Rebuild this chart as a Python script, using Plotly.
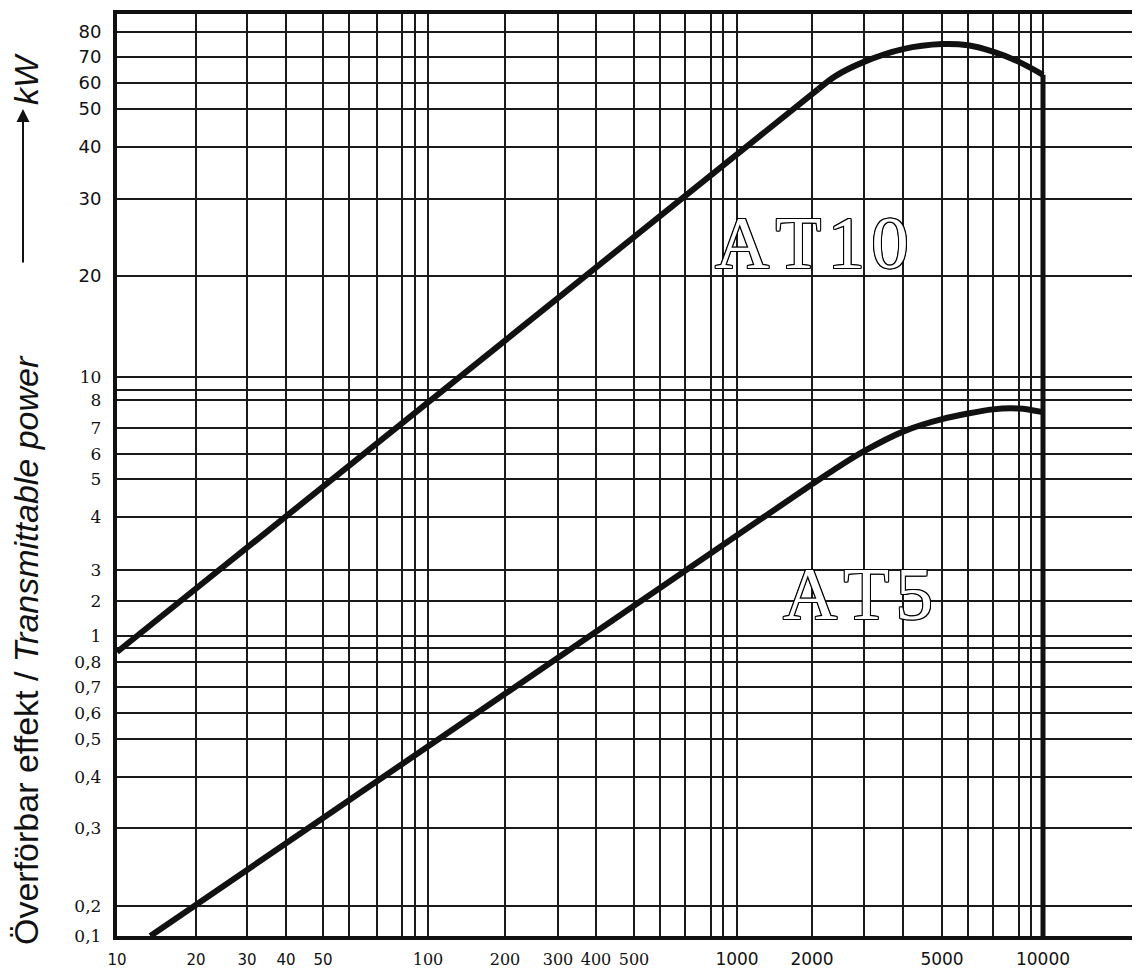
import numpy as np
import plotly.graph_objects as go

# ---- Axis scale of the printed nomogram (value -> scale units along the axis) ----
X_SCALE_RPM = [10, 20, 30, 40, 50, 60, 70, 80, 90, 100, 200, 300, 400, 500, 600, 700, 800, 900,
               1000, 2000, 3000, 4000, 5000, 6000, 7000, 8000, 9000, 10000]
X_SCALE_UNITS = [0, 79, 130, 169, 206, 232, 260, 285, 298, 311, 388, 441, 479, 517, 543, 568, 594, 606,
                 620, 695, 747, 786, 825, 851, 876, 902, 914, 926]
Y_SCALE_KW = [0.1, 0.2, 0.3, 0.4, 0.5, 0.6, 0.7, 0.8, 0.9, 1, 2, 3, 4, 5, 6, 7, 8, 9, 10,
              20, 30, 40, 50, 60, 70, 80]
Y_SCALE_UNITS = [0, 30, 108, 159, 197, 223, 249, 274, 288, 300, 335, 366, 419, 457, 482, 508, 536, 546, 559,
                 660, 737, 789, 827, 853, 879, 904]

# ---- Tick labels ----
X_TICK_VALUES = [10, 20, 30, 40, 50, 100, 200, 300, 400, 500, 1000, 2000, 5000, 10000]
X_TICK_LABELS = ["10", "20", "30", "40", "50", "100", "200", "300", "400", "500",
                 "1000", "2000", "5000", "10000"]
Y_TICK_VALUES = [0.1, 0.2, 0.3, 0.4, 0.5, 0.6, 0.7, 0.8, 1, 2, 3, 4, 5, 6, 7, 8, 10,
                 20, 30, 40, 50, 60, 70, 80]
Y_TICK_LABELS = ["0,1", "0,2", "0,3", "0,4", "0,5", "0,6", "0,7", "0,8", "1", "2", "3", "4", "5",
                 "6", "7", "8", "10", "20", "30", "40", "50", "60", "70", "80"]

# ---- Series (rpm, kW) ----
AT10_LINE_RPM = [10, 2100]
AT10_LINE_KW = [0.87, 57.5]
AT10_CURVE_RPM = [2100, 2400, 3000, 4000, 5000, 6000, 7000, 8000, 10000]
AT10_CURVE_KW = [57.5, 62.5, 68, 73, 75, 74.5, 72, 68, 63]
LIMIT_RPM = [10000, 10000]
LIMIT_KW = [63, 0.1]
AT5_LINE_RPM = [13.4, 2000]
AT5_LINE_KW = [0.1, 4.85]
AT5_CURVE_RPM = [2000, 2485, 3000, 4000, 5000, 7000, 8000, 10000]
AT5_CURVE_KW = [4.85, 5.5, 6.1, 6.85, 7.3, 7.65, 7.68, 7.55]


def xs(v):
    return np.interp(np.log10(np.asarray(v, float)), np.log10(X_SCALE_RPM), X_SCALE_UNITS)


def ys(v):
    return np.interp(np.log10(np.asarray(v, float)), np.log10(Y_SCALE_KW), Y_SCALE_UNITS)


SERIF = "font-family:DejaVu Serif;font-size:16px"
SANS_SMALL = "font-family:DejaVu Sans;font-size:15px"


def xlab(v, t):
    if 100 <= v <= 500:
        return f'<span style="{SERIF}">{t}</span>'
    if v <= 50:
        return f'<span style="{SANS_SMALL}">{t}</span>'
    return t


def ylab(v, t):
    if v <= 10:
        return f'<span style="font-family:DejaVu Serif;font-size:17px">{t}</span>'
    return t


x_grid_vals = list(xs(X_SCALE_RPM))
x_grid_text = []
for v in X_SCALE_RPM:
    if v in X_TICK_VALUES:
        x_grid_text.append(xlab(v, X_TICK_LABELS[X_TICK_VALUES.index(v)]))
    else:
        x_grid_text.append("")
y_grid_vals = list(ys(Y_SCALE_KW))
y_grid_text = []
for v in Y_SCALE_KW:
    if v in Y_TICK_VALUES:
        y_grid_text.append(ylab(v, Y_TICK_LABELS[Y_TICK_VALUES.index(v)]))
    else:
        y_grid_text.append("")

LW = 6
fig = go.Figure()
fig.add_trace(go.Scatter(x=xs(AT10_LINE_RPM), y=ys(AT10_LINE_KW), mode="lines",
                         line=dict(color="#111", width=LW), name="AT10"))
fig.add_trace(go.Scatter(x=xs(AT10_CURVE_RPM), y=ys(AT10_CURVE_KW), mode="lines",
                         line=dict(color="#111", width=LW, shape="spline", smoothing=0.8), name="AT10"))
fig.add_trace(go.Scatter(x=xs(AT5_LINE_RPM), y=ys(AT5_LINE_KW), mode="lines",
                         line=dict(color="#111", width=LW), name="AT5"))
fig.add_trace(go.Scatter(x=xs(AT5_CURVE_RPM), y=ys(AT5_CURVE_KW), mode="lines",
                         line=dict(color="#111", width=LW, shape="spline", smoothing=0.8), name="AT5"))
fig.add_trace(go.Scatter(x=xs(LIMIT_RPM), y=ys(LIMIT_KW), mode="lines",
                         line=dict(color="#111", width=5), name="limit"))

outline = ("1px 0 0 #000, -1px 0 0 #000, 0 1px 0 #000, 0 -1px 0 #000, "
           "1px 1px 0 #000, -1px -1px 0 #000, 1px -1px 0 #000, -1px 1px 0 #000")
HS = "\u200a"
fig.add_annotation(x=float(xs(2000)), y=float(ys(23.8)), text=HS.join("AT10"), showarrow=False,
                   xanchor="center", yanchor="middle",
                   font=dict(family="Liberation Serif", size=75, color="white", shadow=outline))
fig.add_annotation(x=float(xs(2870)), y=float(ys(2.2)), text=HS.join("AT5"), showarrow=False,
                   xanchor="center", yanchor="middle",
                   font=dict(family="Liberation Serif", size=75, color="white", shadow=outline))

# The page adds a body margin; the figure is sized so the plot lands where the reference has it.
PAGE_X, PAGE_Y = 8, 4
W, H = 1140 - PAGE_X, 969 - PAGE_Y
L, T = 117 - PAGE_X, 10 - PAGE_Y
B = H - (932 - PAGE_Y)
PW, PH = W - L, H - T - B


def px_to_paper(px, py):
    return (px - PAGE_X - L) / PW, (H - B - (py - PAGE_Y)) / PH


tx, ty = px_to_paper(26, 646)
fig.add_annotation(xref="paper", yref="paper", x=tx, y=ty, text="Överförbar effekt / <i>Transmittable power</i>",
                   textangle=-90, showarrow=False, xanchor="center", yanchor="middle",
                   font=dict(family="Liberation Sans", size=34, color="#111"))
kx, ky = px_to_paper(26, 75)
fig.add_annotation(xref="paper", yref="paper", x=kx, y=ky, text="<i>kW</i>",
                   textangle=-90, showarrow=False, xanchor="center", yanchor="middle",
                   font=dict(family="Liberation Sans", size=34, color="#111"))
ax_, ay_ = px_to_paper(23, 105)
fig.add_annotation(xref="paper", yref="paper", x=ax_, y=ay_, text="", showarrow=True,
                   ax=0, ay=155, arrowhead=2, arrowsize=1.3, arrowwidth=2, arrowcolor="#111",
                   standoff=0, startstandoff=0)

fig.update_layout(
    width=W, height=H, margin=dict(l=L, r=0, t=T, b=B),
    paper_bgcolor="white", plot_bgcolor="white", showlegend=False,
    font=dict(family="DejaVu Sans", size=17, color="#111"),
)
fig.update_xaxes(range=[0, PW], tickmode="array", tickvals=x_grid_vals, ticktext=x_grid_text,
                 showgrid=True, gridcolor="#1a1a1a", gridwidth=1.5, zeroline=False,
                 showline=True, linewidth=4, linecolor="#111", mirror=True,
                 ticks="", ticklabelstandoff=5, tickangle=0,
                 tickfont=dict(family="DejaVu Sans", size=17, color="#111"))
fig.update_yaxes(range=[0, PH], tickmode="array", tickvals=y_grid_vals, ticktext=y_grid_text,
                 showgrid=True, gridcolor="#1a1a1a", gridwidth=1.5, zeroline=False,
                 showline=True, linewidth=4, linecolor="#111", mirror=False,
                 ticks="", ticklabelstandoff=8,
                 tickfont=dict(family="DejaVu Sans", size=18, color="#111"))

fig.write_html("out.html")
